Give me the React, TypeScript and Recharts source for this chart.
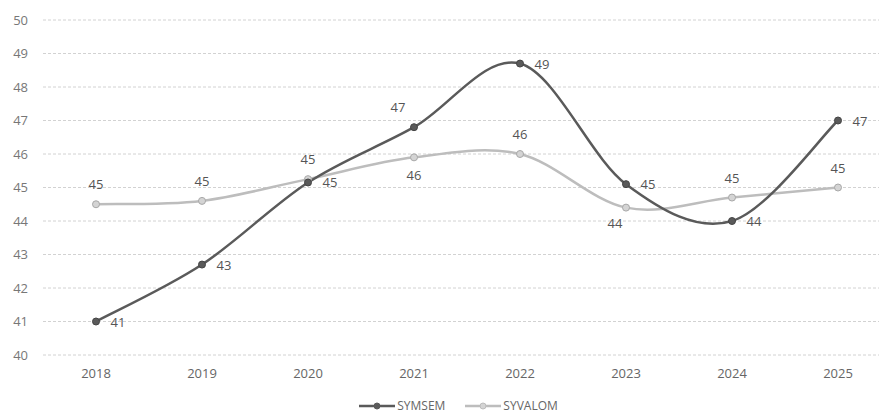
import React from 'react';
import { LineChart, Line, XAxis, YAxis, CartesianGrid, Legend, LabelList } from 'recharts';

const years = ['2018', '2019', '2020', '2021', '2022', '2023', '2024', '2025'];
const symsem = [41.0, 42.7, 45.15, 46.8, 48.7, 45.1, 44.0, 47.0];
const syvalom = [44.5, 44.6, 45.25, 45.9, 46.0, 44.4, 44.7, 45.0];
const yTicks = [40, 41, 42, 43, 44, 45, 46, 47, 48, 49, 50];

// where each data label sits relative to its point
const symsemLabelPos = ['right', 'right', 'right', 'aboveLeft', 'right', 'right', 'right', 'right'];
const syvalomLabelPos = ['above', 'above', 'above', 'below', 'above', 'belowLeft', 'above', 'above'];

const data = years.map((year, i) => ({ year, SYMSEM: symsem[i], SYVALOM: syvalom[i] }));

const DARK = '#5a5a5a';
const LIGHT = '#bdbdbd';
const FONT = '"Open Sans", sans-serif';

// Excel-style smoothing (Catmull-Rom as cubic beziers)
const smoothCurve = (context: any) => {
  let pts: [number, number][] = [];
  return {
    areaStart() {},
    areaEnd() {},
    lineStart() {
      pts = [];
    },
    point(x: number, y: number) {
      pts.push([+x, +y]);
    },
    lineEnd() {
      if (!pts.length) return;
      context.moveTo(pts[0][0], pts[0][1]);
      for (let i = 0; i < pts.length - 1; i++) {
        const p0 = pts[i - 1] || pts[i];
        const p1 = pts[i];
        const p2 = pts[i + 1];
        const p3 = pts[i + 2] || p2;
        context.bezierCurveTo(
          p1[0] + (p2[0] - p0[0]) / 6,
          p1[1] + (p2[1] - p0[1]) / 6,
          p2[0] - (p3[0] - p1[0]) / 6,
          p2[1] - (p3[1] - p1[1]) / 6,
          p2[0],
          p2[1]
        );
      }
    },
  };
};

const offsets: Record<string, [number, number]> = {
  right: [22, 0],
  above: [0, -20],
  below: [0, 18],
  aboveLeft: [-16, -20],
  belowLeft: [-11, 15],
};

const makeLabel = (positions: string[]) => (props: any) => {
  const { x, y, value, index } = props;
  const [dx, dy] = offsets[positions[index]] || [0, -18];
  return (
    <text
      x={x + dx}
      y={y + dy}
      textAnchor="middle"
      dominantBaseline="central"
      fill="#555"
      fontSize={13}
      fontFamily={FONT}
    >
      {Math.round(value)}
    </text>
  );
};

const LegendIcon = ({ color, dotFill }: { color: string; dotFill: string }) => (
  <svg width={36} height={10} style={{ marginRight: 2 }}>
    <line x1={0} y1={5} x2={36} y2={5} stroke={color} strokeWidth={2.5} />
    <circle cx={18} cy={5} r={3} fill={dotFill} stroke={color} />
  </svg>
);

const renderLegend = () => (
  <div
    style={{
      display: 'flex',
      justifyContent: 'center',
      alignItems: 'center',
      height: 22,
      paddingLeft: 38,
      fontFamily: FONT,
      fontSize: 12,
      lineHeight: '14px',
      color: '#666',
    }}
  >
    <LegendIcon color={DARK} dotFill={DARK} />
    <span style={{ marginRight: 20 }}>SYMSEM</span>
    <LegendIcon color={LIGHT} dotFill="#d4d4d4" />
    <span>SYVALOM</span>
  </div>
);

export default function App() {
  return (
    <div style={{ position: 'absolute', left: 0, top: 0, background: '#fff', width: 879, height: 417 }}>
      <LineChart
        width={879}
        height={417}
        data={data}
        margin={{ top: 20, right: 0, bottom: 0, left: 0 }}
        style={{ fontFamily: FONT }}
      >
        <CartesianGrid vertical={false} stroke="#d2d2d2" strokeDasharray="3 2" />
        <XAxis
          dataKey="year"
          axisLine={false}
          tickLine={false}
          tickSize={0}
          tickMargin={14}
          height={40}
          padding={{ left: 53, right: 41 }}
          tick={{ fill: '#666', fontSize: 13 }}
        />
        <YAxis
          domain={[40, 50]}
          ticks={yTicks}
          interval={0}
          axisLine={false}
          tickLine={false}
          tickSize={0}
          tickMargin={15}
          width={43}
          tick={{ fill: '#777', fontSize: 13 }}
        />
        <Legend verticalAlign="bottom" height={22} content={renderLegend} />
        <Line
          dataKey="SYVALOM"
          type={smoothCurve as any}
          stroke={LIGHT}
          strokeWidth={2.5}
          dot={{ r: 3.5, fill: '#d4d4d4', stroke: '#a8a8a8', strokeWidth: 1 }}
          isAnimationActive={false}
        >
          <LabelList dataKey="SYVALOM" content={makeLabel(syvalomLabelPos)} />
        </Line>
        <Line
          dataKey="SYMSEM"
          type={smoothCurve as any}
          stroke={DARK}
          strokeWidth={2.5}
          dot={{ r: 3.5, fill: DARK, stroke: '#444', strokeWidth: 1 }}
          isAnimationActive={false}
        >
          <LabelList dataKey="SYMSEM" content={makeLabel(symsemLabelPos)} />
        </Line>
      </LineChart>
    </div>
  );
}
